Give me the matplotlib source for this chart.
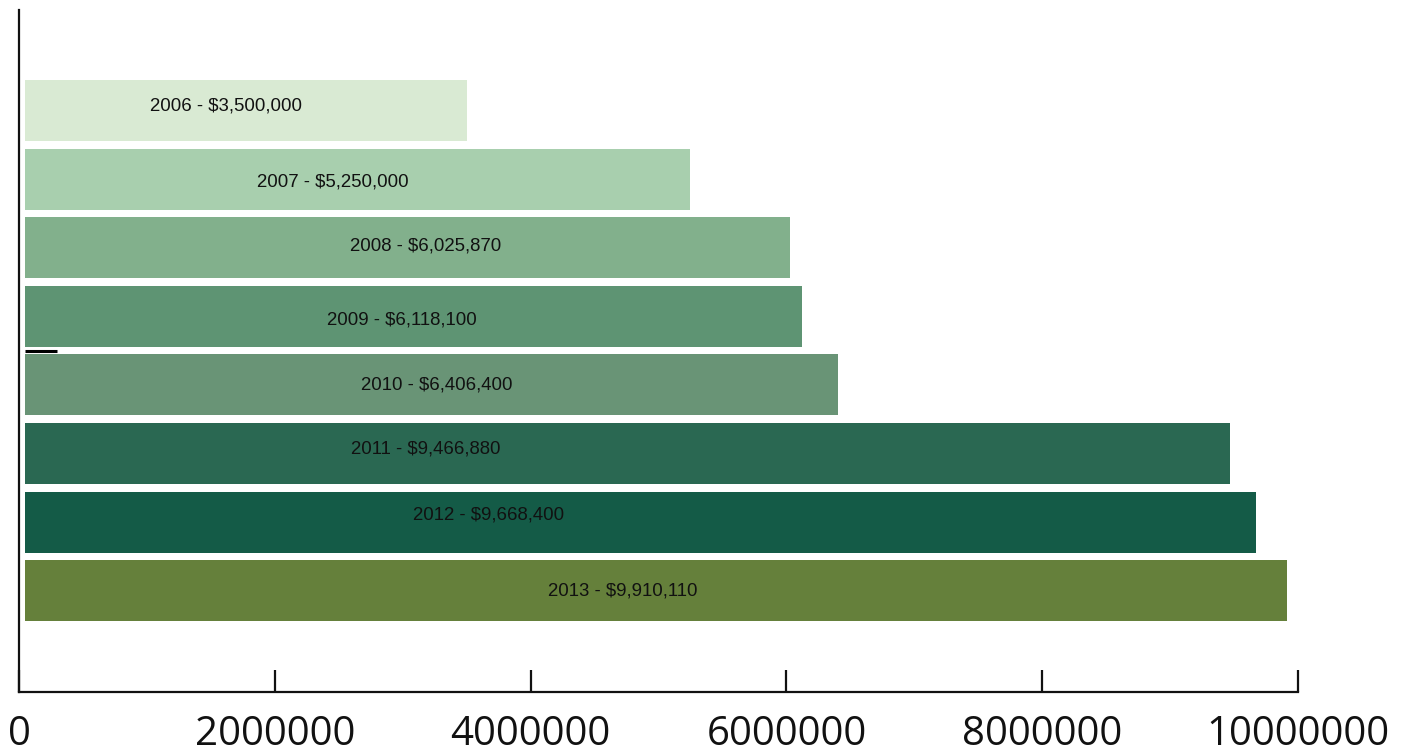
import matplotlib
matplotlib.use('Agg')
import matplotlib.pyplot as plt
import numpy as np

# Datos
anios = ['2006', '2007', '2008', '2009', '2010', '2011', '2012', '2013']
montos = [3500000, 5250000, 6025870, 6118100, 6406400, 9466880, 9668400, 9910110]
colores = ['#d9ead3', '#a8cfae', '#82b08c', '#5e9473', '#699476', '#2a6852', '#145b47', '#65803b']
# posicion (centro) de cada etiqueta, estimada de la imagen
etiqueta_x = [1620000, 2455000, 3180000, 2990000, 3270000, 3180000, 3670000, 4720000]
etiqueta_dy = [-0.06, 0.04, -0.03, 0.06, 0.0, -0.06, -0.10, 0.0]
ticks_x = [0, 2000000, 4000000, 6000000, 8000000, 10000000]

fig = plt.figure(figsize=(14.07, 7.5), dpi=100)
ax = fig.add_axes([19 / 1407, 58 / 750, 1279 / 1407, 682 / 750])

inicio_barra = 47000
y = np.arange(len(anios))
ax.barh(y, np.array(montos) - inicio_barra, left=inicio_barra, height=0.89,
        color=colores, edgecolor='none')

for i, (anio, monto) in enumerate(zip(anios, montos)):
    ax.text(etiqueta_x[i], i + etiqueta_dy[i], f'{anio} - ${monto:,}', ha='center', va='center',
            fontsize=13.4, family='Liberation Sans', color='#111111')

# pequena marca entre 2009 y 2010
ax.plot([inicio_barra, 297000], [3.5, 3.5], color='black', lw=2.2, solid_capstyle='butt')

ax.set_xlim(0, 10000000)
ax.set_ylim(8.477, -1.465)

for lado in ['top', 'right']:
    ax.spines[lado].set_visible(False)
for lado in ['left', 'bottom']:
    ax.spines[lado].set_linewidth(1.6)
    ax.spines[lado].set_color('#111111')

ax.set_yticks([])
ax.set_xticks(ticks_x)
ax.set_xticklabels([str(t) for t in ticks_x], family='Open Sans', fontsize=29)
ax.tick_params(axis='x', direction='in', length=16, width=1.6, pad=16, colors='#111111')

fig.savefig('out.png', dpi=100)
